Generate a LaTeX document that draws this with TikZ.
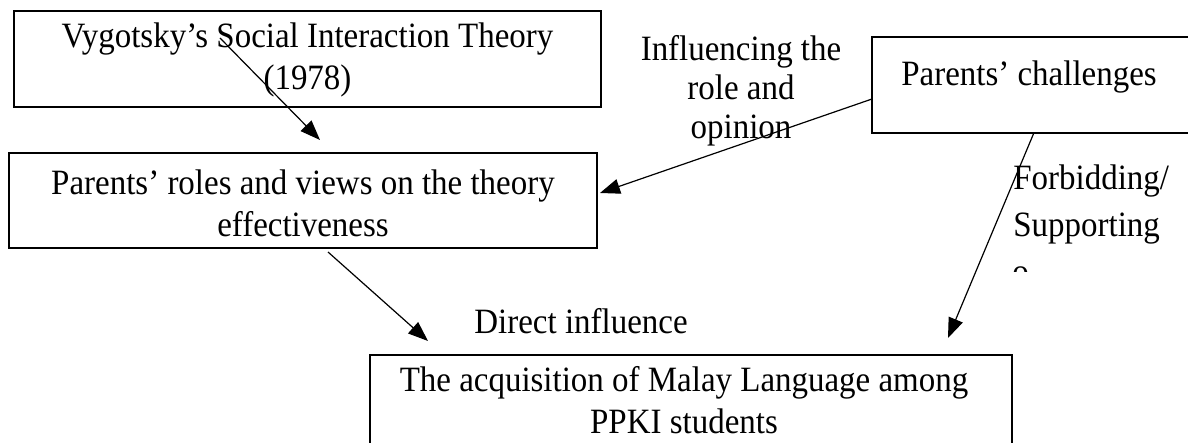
\documentclass[tikz,border=0pt]{standalone}
\usepackage{fontspec}
\setmainfont{Liberation Serif}[FakeStretch=0.926]
\usetikzlibrary{arrows.meta, positioning, fit}
\tikzset{
  conceptbox/.style={rectangle, draw, line width=0.8pt, inner sep=0pt},
  boxtext/.style={align=center, inner sep=0pt, anchor=north, font=\fontsize{17.8}{21}\selectfont},
  linklabel/.style={align=center, inner sep=0pt, font=\fontsize{17.8}{19.5}\selectfont},
  arr/.style={-{Triangle[length=10pt, width=7.5pt]}, line width=0.6pt},
}

\begin{document}
\begin{tikzpicture}[x=0.5pt, y=-0.5pt]
  \path[use as bounding box] (0,0) rectangle (1188,443);
  \clip (0,0) rectangle (1188,443);

  % Boxes
  \node[conceptbox, fit={(14,11) (601,107)}] (theory) {};
  \node[boxtext] (theoryText) at (307.5,22) {Vygotsky’s Social Interaction Theory\\(1978)};
  \node[conceptbox, fit={(9,153) (597,248)}] (roles) {};
  \node[boxtext] (rolesText) at (303,169) {Parents’ roles and views on the theory\\effectiveness};
  \node[conceptbox, fit={(872,37) (1195,133)}] (chal) {};
  \node[boxtext] (chalText) at (1029,60) {Parents’ challenges};
  \node[conceptbox, fit={(370,355) (1012,455)}] (malay) {};
  \node[boxtext] (malayText) at (684,366) {The acquisition of Malay Language among\\PPKI students};

  % Link labels
  \node[linklabel, anchor=north] (infl) at (741,35) {Influencing the\\role and\\opinion};
  \node[linklabel, anchor=base west] (forbid) at (1013,190) {Forbidding/};
  \node[linklabel, anchor=base west] (supp) at (1013,236) {Supporting};
  \begin{scope}
    \clip (1000,255) rectangle (1060,272);
    \node[linklabel, anchor=base west] (suppcut) at (1012,284) {o};
  \end{scope}
  \node[linklabel, anchor=base west] (direct) at (474,333) {Direct influence};

  % Arrows
  \coordinate (theoryStart) at (220,38);
  \coordinate (rolesTip) at (320,140);
  \coordinate (chalStart) at (872,99);
  \coordinate (rolesSide) at (600,193);
  \coordinate (rolesStart) at (328,252);
  \coordinate (malayTipL) at (428,341);
  \coordinate (malayTipR) at (948,338);

  \draw[arr] (theoryStart) -- (rolesTip);
  \draw[arr] (chalStart) -- (rolesSide);
  \draw[arr] (rolesStart) -- (malayTipL);
  \draw[arr] (chal.south) -- (malayTipR);
\end{tikzpicture}
\end{document}
